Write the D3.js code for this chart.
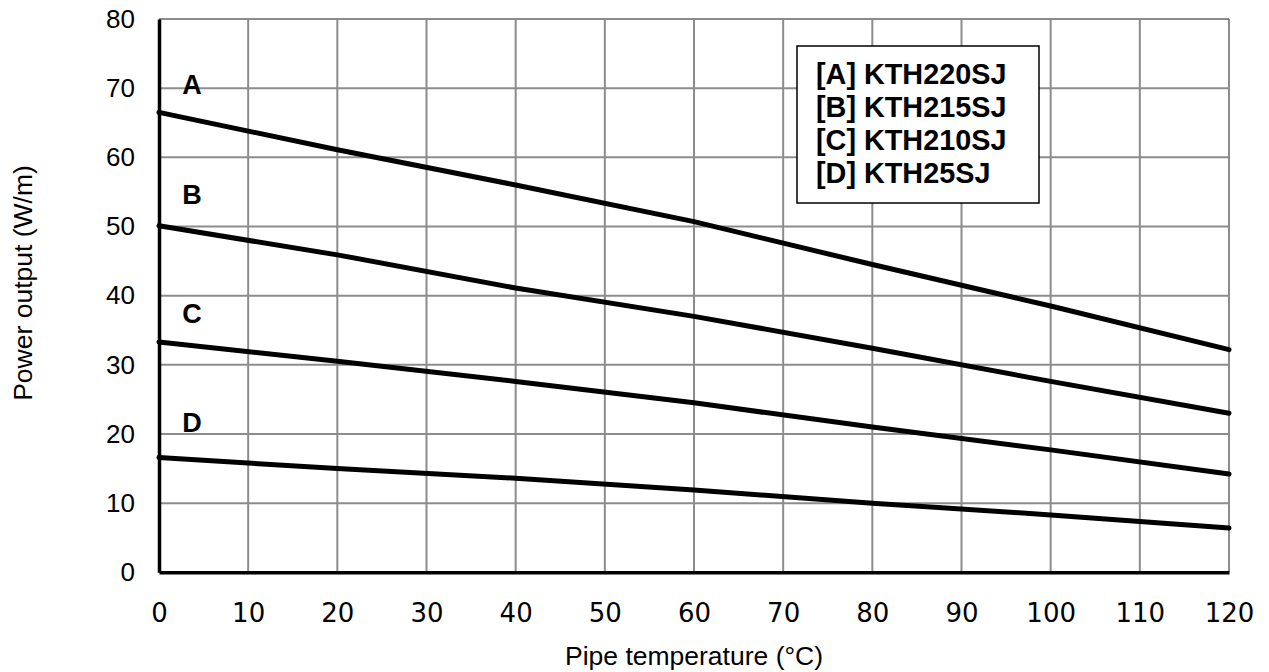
<!DOCTYPE html>
<html>
<head>
<meta charset="utf-8">
<script src="https://cdn.jsdelivr.net/npm/d3@7"></script>
<style>
  html, body { margin: 0; padding: 0; background: #fff; }
</style>
</head>
<body>
<div id="chart"></div>
<script>
// data
const temps = [0, 20, 40, 60, 80, 100, 120]
const seriesA = [66.5, 61.1, 56.0, 50.7, 44.5, 38.5, 32.2]
const seriesB = [50.1, 45.9, 41.1, 37.0, 32.4, 27.6, 23.0]
const seriesC = [33.3, 30.5, 27.6, 24.5, 21.0, 17.7, 14.2]
const seriesD = [16.6, 15.0, 13.6, 11.9, 10.0, 8.3, 6.4]
const seriesKeys = ["A", "B", "C", "D"]
const legendLabels = ["[A] KTH220SJ", "[B] KTH215SJ", "[C] KTH210SJ", "[D] KTH25SJ"]
// letter label anchor, in data units (temp, W/m)
const labelPos = [[2.6, 69.1], [2.6, 53.2], [2.6, 36.1], [2.6, 20.3]]
const xTicks = d3.range(0, 121, 10)
const yTicks = d3.range(0, 81, 10)

const width = 1269, height = 672
const margin = { top: 19, right: 40, bottom: 100, left: 159 }

const svg = d3.select("#chart").append("svg")
    .attr("width", width)
    .attr("height", height)
    .style("font-family", "'Liberation Sans', Arial, sans-serif")

const x = d3.scaleLinear().domain([0, 120]).range([margin.left, width - margin.right])
const y = d3.scaleLinear().domain([0, 80]).range([height - margin.bottom + 0.3, margin.top])

// grid
const grid = svg.append("g").attr("stroke", "#8c8c8c").attr("stroke-width", 2)
grid.selectAll(".gx").data(xTicks.slice(1)).join("line")
    .attr("x1", d => x(d)).attr("x2", d => x(d))
    .attr("y1", y(0)).attr("y2", y(80))
grid.selectAll(".gy").data(yTicks.slice(1)).join("line")
    .attr("x1", x(0)).attr("x2", x(120))
    .attr("y1", d => y(d)).attr("y2", d => y(d))

// axes
const yAxis = svg.append("g")
    .attr("transform", `translate(${x(0)},0)`)
    .call(d3.axisLeft(y).tickValues(yTicks).tickSize(0).tickPadding(24))
yAxis.select(".domain").attr("stroke", "#000").attr("stroke-width", 3.5)
yAxis.selectAll(".tick text")
    .attr("font-family", "'Liberation Sans', Arial, sans-serif")
    .attr("font-size", "26px")
    .attr("fill", "#000")

const xAxis = svg.append("g")
    .attr("transform", `translate(0,${y(0)})`)
    .call(d3.axisBottom(x).tickValues(xTicks).tickSize(0).tickPadding(31))
xAxis.select(".domain").attr("stroke", "#000").attr("stroke-width", 3.5)
xAxis.selectAll(".tick text")
    .attr("font-family", "'DejaVu Sans', Verdana, sans-serif")
    .attr("font-size", "26px")
    .attr("fill", "#000")

// lines
const allSeries = [seriesA, seriesB, seriesC, seriesD]
const line = d3.line().x((d, i) => x(temps[i])).y(d => y(d))
svg.append("g").selectAll("path").data(allSeries).join("path")
    .attr("d", line)
    .attr("fill", "none")
    .attr("stroke", "#000")
    .attr("stroke-width", 5)
    .attr("stroke-linecap", "round")

// letter labels
svg.append("g").selectAll("text").data(seriesKeys).join("text")
    .attr("x", (d, i) => x(labelPos[i][0]))
    .attr("y", (d, i) => y(labelPos[i][1]))
    .attr("font-size", "27px")
    .attr("font-weight", "bold")
    .text(d => d)

// legend
const legend = svg.append("g")
legend.append("rect")
    .attr("x", 797).attr("y", 46)
    .attr("width", 242).attr("height", 157)
    .attr("fill", "#fff")
    .attr("stroke", "#000")
    .attr("stroke-width", 1.5)
legend.selectAll("text").data(legendLabels).join("text")
    .attr("x", 816)
    .attr("y", (d, i) => 83.5 + i * 33.2)
    .attr("font-size", "28.8px")
    .attr("font-weight", "bold")
    .text(d => d)

// axis titles
svg.append("text")
    .attr("x", x(60))
    .attr("y", 665)
    .attr("text-anchor", "middle")
    .attr("font-size", "26.5px")
    .text("Pipe temperature (°C)")

svg.append("text")
    .attr("transform", `translate(32,283) rotate(-90)`)
    .attr("text-anchor", "middle")
    .attr("font-size", "26.5px")
    .text("Power output (W/m)")
</script>
</body>
</html>
